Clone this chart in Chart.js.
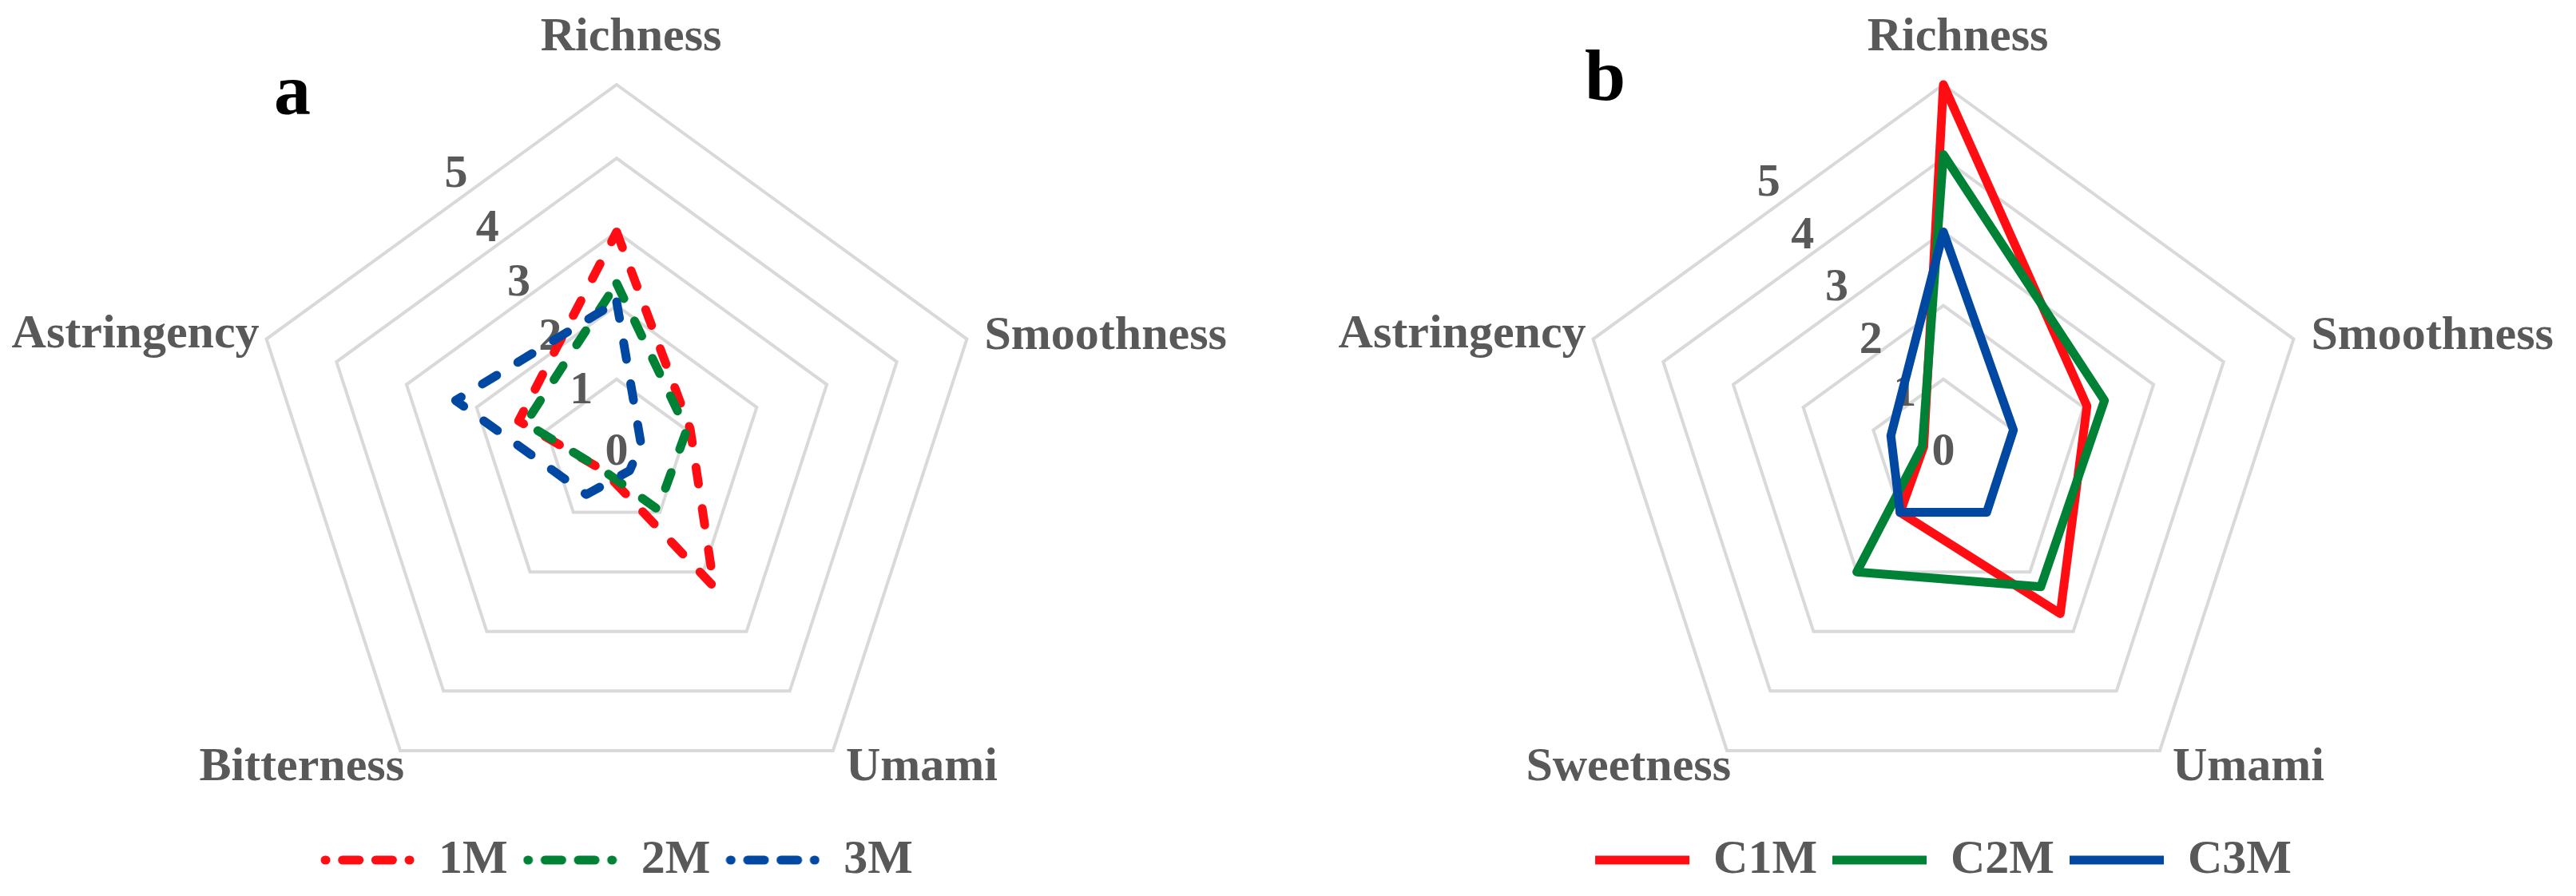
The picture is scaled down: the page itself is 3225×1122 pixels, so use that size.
<!DOCTYPE html>
<html>
<head>
<meta charset="utf-8">
<title>Sensory radar charts</title>
<script src="https://cdn.jsdelivr.net/npm/chart.js@4.4.1/dist/chart.umd.min.js"></script>
<style>
  html, body { margin: 0; padding: 0; background: #ffffff; }
  .panel { position: absolute; top: 0; }
  #panelA { left: 0; }
  #panelB { left: 1612px; }
</style>
</head>
<body>
<canvas id="panelA" class="panel" width="1612" height="1122"></canvas>
<canvas id="panelB" class="panel" width="1613" height="1122"></canvas>
<script>
// Axes
const attributesA = ['Richness', 'Smoothness', 'Umami', 'Bitterness', 'Astringency'];
const attributesB = ['Richness', 'Smoothness', 'Umami', 'Sweetness', 'Astringency'];
const tickValues = [0, 1, 2, 3, 4, 5];

// Panel a (dashed series)
const namesA = ['1M', '2M', '3M'];
const scores1M = [3.0, 1.05, 2.25, 0.3, 1.4];
const scores2M = [2.3, 1.0, 0.95, 0.3, 1.3];
const scores3M = [2.05, 0.35, 0.3, 0.7, 2.3];

// Panel b (solid series)
const namesB = ['C1M', 'C2M', 'C3M'];
const scoresC1M = [5.0, 2.05, 2.7, 1.0, 0.28];
const scoresC2M = [4.05, 2.3, 2.25, 2.0, 0.3];
const scoresC3M = [3.0, 1.0, 1.0, 1.0, 0.75];

const RED = '#ff0d12';
const GREEN = '#008236';
const BLUE = '#0048a2';
const TEXT_GREY = '#595959';
const SERIF = '"Liberation Serif", "Times New Roman", serif';
const LINE_W = 11;
const DASH = [21, 31];
const SWATCH_W = 118;

// where each category label sits relative to its outer vertex
const labelRules = [
  { align: 'center', dx: 18, dy: -43 },
  { align: 'left', dx: 22, dy: 12 },
  { align: 'left', dx: 16, dy: 37 },
  { align: 'right', dx: 5, dy: 37 },
  { align: 'right', dx: -9, dy: 10 }
];

// legend sample for the dashed series: dot, dash, dash, dot
function dashedSwatch(color) {
  const c = document.createElement('canvas');
  c.width = SWATCH_W;
  c.height = 14;
  const g = c.getContext('2d');
  const x0 = 6, x1 = SWATCH_W - 6;
  const gap = ((x1 - x0) - 2 - 2 * DASH[0]) / 3;
  g.strokeStyle = color;
  g.lineWidth = LINE_W;
  g.lineCap = 'round';
  g.setLineDash([DASH[0], gap]);
  g.lineDashOffset = DASH[0] - 1;
  g.beginPath();
  g.moveTo(x0, 7);
  g.lineTo(x1, 7);
  g.stroke();
  return c;
}

const tickLabelPlugin = {
  id: 'tickText',
  beforeDatasetsDraw(chart, args, opts) {
    const r = chart.scales.r;
    const ctx = chart.ctx;
    const ang = opts.angle * Math.PI / 180;
    ctx.save();
    ctx.fillStyle = TEXT_GREY;
    ctx.font = 'bold 58px ' + SERIF;
    ctx.textAlign = 'center';
    ctx.textBaseline = 'middle';
    tickValues.forEach(v => {
      const d = v === 0 ? 0 : r.getDistanceFromCenterForValue(v) * 0.85 + 10;
      ctx.fillText(String(v), r.xCenter - d * Math.sin(ang), r.yCenter - d * Math.cos(ang));
    });
    ctx.restore();
  }
};

const panelTextPlugin = {
  id: 'panelText',
  afterDraw(chart, args, opts) {
    const r = chart.scales.r;
    const ctx = chart.ctx;
    ctx.save();
    ctx.fillStyle = TEXT_GREY;
    ctx.font = 'bold 60px ' + SERIF;
    ctx.textBaseline = 'alphabetic';
    chart.data.labels.forEach((label, i) => {
      const p = r.getPointPosition(i, r.drawingArea);
      const rule = labelRules[i];
      ctx.textAlign = rule.align;
      ctx.fillText(label, p.x + rule.dx, p.y + rule.dy);
    });
    // panel letter
    ctx.fillStyle = '#000000';
    ctx.font = 'bold 92px ' + SERIF;
    ctx.textAlign = 'left';
    ctx.fillText(opts.letter, opts.letterX, opts.letterY);
    ctx.restore();
  }
};

function makeDataset(name, values, color, dashed, order) {
  return {
    label: name,
    data: values,
    borderColor: color,
    backgroundColor: 'rgba(0,0,0,0)',
    borderWidth: LINE_W,
    borderDash: dashed ? DASH : [],
    borderCapStyle: 'round',
    borderJoinStyle: 'round',
    fill: false,
    tension: 0,
    pointRadius: 0,
    pointStyle: dashed ? dashedSwatch(color) : 'line',
    order: order
  };
}

function radarConfig(labels, datasets, padding, extras) {
  return {
    type: 'radar',
    data: { labels: labels, datasets: datasets },
    options: {
      responsive: false,
      animation: false,
      layout: { padding: padding },
      scales: {
        r: {
          min: 0,
          max: 5,
          ticks: { stepSize: 1, display: false },
          grid: { color: '#d9d9d9', lineWidth: 4 },
          angleLines: { display: false },
          pointLabels: { display: false }
        }
      },
      plugins: {
        legend: {
          position: 'bottom',
          labels: {
            usePointStyle: true,
            pointStyleWidth: SWATCH_W,
            padding: 19,
            color: TEXT_GREY,
            font: { family: SERIF, weight: 'bold', size: 60 },
            sort: (a, b) => a.datasetIndex - b.datasetIndex
          }
        },
        tooltip: { enabled: false },
        tickText: { angle: extras.tickAngle },
        panelText: { letter: extras.letter, letterX: extras.letterX, letterY: extras.letterY }
      }
    },
    plugins: [tickLabelPlugin, panelTextPlugin]
  };
}

new Chart(document.getElementById('panelA'), radarConfig(
  attributesA,
  [
    makeDataset(namesA[0], scores1M, RED, true, 3),
    makeDataset(namesA[1], scores2M, GREEN, true, 2),
    makeDataset(namesA[2], scores3M, BLUE, true, 1)
  ],
  { left: 311, right: 379, top: 106, bottom: 5 },
  { tickAngle: 30, letter: 'a', letterX: 343, letterY: 143 }
));

new Chart(document.getElementById('panelB'), radarConfig(
  attributesB,
  [
    makeDataset(namesB[0], scoresC1M, RED, false, 3),
    makeDataset(namesB[1], scoresC2M, GREEN, false, 2),
    makeDataset(namesB[2], scoresC3M, BLUE, false, 1)
  ],
  { left: 360, right: 331, top: 106, bottom: 5 },
  { tickAngle: 33, letter: 'b', letterX: 372, letterY: 125 }
));
</script>
</body>
</html>
